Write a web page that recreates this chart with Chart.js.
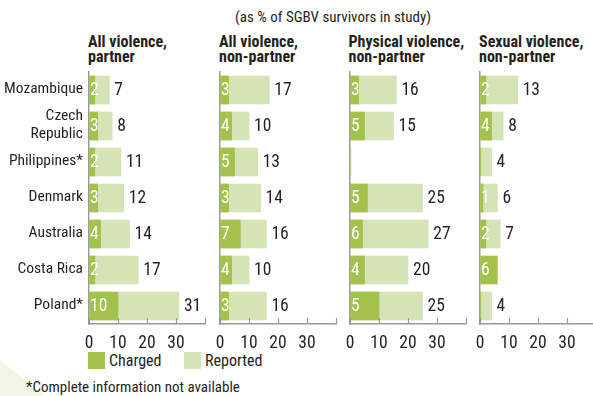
<!DOCTYPE html>
<html>
<head>
<meta charset="utf-8">
<script src="https://cdn.jsdelivr.net/npm/chart.js@4.4.1/dist/chart.umd.min.js"></script>
<style>
  html, body { margin: 0; padding: 0; background: #fff; overflow: hidden; }
  body { width: 593px; height: 396px; position: relative;
         font-family: 'Liberation Sans Narrow', 'Arial Narrow', 'Roboto Condensed', sans-serif; color: #231f20; }
  canvas { position: absolute; }
  .deco { position: absolute; left: 0; top: 0; width: 593px; height: 396px;
          background: #f1f6e7; clip-path: polygon(0 360px, 10px 368px, 30px 384px, 46px 396px, 0 396px); }
  .sub { position: absolute; left: 333px; top: 8px; transform: translateX(-50%); font-size: 15px; white-space: nowrap; }
  .ptitle { position: absolute; top: 34px; font-size: 16px; font-weight: bold; line-height: 15px; white-space: pre; }
  .sw { position: absolute; top: 352px; width: 17px; height: 17px; }
  .lg { position: absolute; top: 352px; font-size: 16px; line-height: 18px; }
  .foot { position: absolute; left: 26px; top: 378px; font-size: 15px; white-space: nowrap; }
</style>
</head>
<body>
<div class="deco"></div>
<div class="sub">(as % of SGBV survivors in study)</div>
<div id="titles"></div>
<div class="sw" style="left:88px;background:#a2c14d"></div>
<div class="lg" style="left:109px">Charged</div>
<div class="sw" style="left:184px;background:#d5e3b6"></div>
<div class="lg" style="left:205px">Reported</div>
<div class="foot">*Complete information not available</div>

<script>
// data
const countries = ['Mozambique', 'Czech\nRepublic', 'Philippines*', 'Denmark', 'Australia', 'Costa Rica', 'Poland*'];
const panelTitles = ['All violence,\npartner', 'All violence,\nnon-partner', 'Physical violence,\nnon-partner', 'Sexual violence,\nnon-partner'];
const xTicks = [0, 10, 20, 30];

const partnerCharged = [2, 3, 2, 3, 4, 2, 10];
const partnerReported = [7, 8, 11, 12, 14, 17, 31];

const nonPartnerCharged = [3, 4, 5, 3, 7, 4, 3];
const nonPartnerReported = [17, 10, 13, 14, 16, 10, 16];

// physical: bar lengths as drawn, printed numbers kept apart (they don't agree in the source)
const physicalChargedBar = [3, 5, 0, 6, 4.3, 5, 10];
const physicalChargedText = [3, 5, null, 5, 6, 4, 5];
const physicalReported = [16, 15, 0.4, 25, 27, 20, 25];
const physicalReportedText = [16, 15, null, 25, 27, 20, 25];

const sexualCharged = [2, 4, 0.3, 1, 2, 6, 0.3];
const sexualChargedText = [2, 4, null, 1, 2, 6, null];
const sexualReported = [13, 8, 4, 6, 7, null, 4];

const DARK = '#a2c14d';
const LIGHT = '#d5e3b6';
const INK = '#231f20';
const AXIS = '#9a9a9a';
const FONT = "'Liberation Sans Narrow', 'Arial Narrow', 'Roboto Condensed', sans-serif";

const panels = [
  { x0: 89, charged: partnerCharged, reported: partnerReported },
  { x0: 220, charged: nonPartnerCharged, reported: nonPartnerReported },
  { x0: 349.5, charged: physicalChargedBar, chargedText: physicalChargedText,
    reported: physicalReported, reportedText: physicalReportedText },
  { x0: 480, charged: sexualCharged, chargedText: sexualChargedText, reported: sexualReported }
];

const AREA_W = 116;   // 0..40 span
const TOP = 62, PAD_T = 10, AREA_H = 252, AXIS_H = 32;

Chart.defaults.font.family = FONT;
Chart.defaults.color = INK;

// value labels, upward tick marks, country names
const decor = {
  id: 'decor',
  afterDatasetsDraw(chart, args, opts) {
    const ctx = chart.ctx;
    const xs = chart.scales.x, ys = chart.scales.y;
    const p = opts.panel;
    ctx.save();
    ctx.font = '17.5px ' + FONT;
    ctx.textBaseline = 'middle';
    countries.forEach((c, i) => {
      const y = ys.getPixelForValue(i) + 1;
      const ct = p.chargedText ? p.chargedText[i] : p.charged[i];
      if (ct !== null && ct !== undefined) {
        ctx.fillStyle = '#fff';
        ctx.textAlign = 'left';
        ctx.fillText(String(ct), xs.getPixelForValue(0) + 1, y);
      }
      const rv = p.reported[i];
      const rt = p.reportedText ? p.reportedText[i] : rv;
      if (rv !== null && rt !== null) {
        ctx.fillStyle = INK;
        ctx.textAlign = 'left';
        ctx.fillText(String(rt), xs.getPixelForValue(rv) + 5, y);
      }
    });
    // small tick marks pointing up from the axis
    ctx.strokeStyle = AXIS;
    ctx.lineWidth = 1.2;
    [0, 10, 20, 30, 40].forEach(v => {
      const x = Math.round(xs.getPixelForValue(v)) + 0.5;
      ctx.beginPath();
      ctx.moveTo(x, chart.chartArea.bottom);
      ctx.lineTo(x, chart.chartArea.bottom - 6);
      ctx.stroke();
    });
    if (opts.names) {
      ctx.fillStyle = INK;
      ctx.font = '15.5px ' + FONT;
      ctx.textAlign = 'right';
      countries.forEach((c, i) => {
        const lines = c.split('\n');
        const y = ys.getPixelForValue(i);
        lines.forEach((ln, k) => {
          ctx.fillText(ln, xs.getPixelForValue(0) - 6, y + (k - (lines.length - 1) / 2) * 18 - 1);
        });
      });
    }
    ctx.restore();
  }
};

const titles = document.getElementById('titles');

panels.forEach((p, idx) => {
  const padL = idx === 0 ? p.x0 : 10;
  const padR = 10;
  const cv = document.createElement('canvas');
  cv.width = padL + AREA_W + padR;
  cv.height = PAD_T + AREA_H + AXIS_H;
  cv.style.left = (p.x0 - padL) + 'px';
  cv.style.top = TOP + 'px';
  document.body.appendChild(cv);

  const t = document.createElement('div');
  t.className = 'ptitle';
  t.style.left = (p.x0 - 1) + 'px';
  t.textContent = panelTitles[idx];
  titles.appendChild(t);

  new Chart(cv.getContext('2d'), {
    type: 'bar',
    data: {
      labels: countries,
      datasets: [
        { label: 'Charged', data: p.charged, backgroundColor: DARK, grouped: false, order: 0, barThickness: 28 },
        { label: 'Reported', data: p.reported, backgroundColor: LIGHT, grouped: false, order: 1, barThickness: 28 }
      ]
    },
    options: {
      indexAxis: 'y',
      responsive: false,
      animation: false,
      layout: { padding: { left: padL, right: padR, top: PAD_T, bottom: 0 } },
      plugins: {
        legend: { display: false },
        tooltip: { enabled: false },
        decor: { panel: p, names: idx === 0 }
      },
      scales: {
        x: {
          min: 0,
          max: 40,
          afterFit: s => { s.height = AXIS_H; s.paddingLeft = 0; s.paddingRight = 0; },
          afterBuildTicks: s => { s.ticks = [0, 10, 20, 30, 40].map(v => ({ value: v })); },
          ticks: {
            padding: 9,
            color: INK,
            font: { size: 17.5 },
            maxRotation: 0,
            callback: v => xTicks.includes(v) ? String(v) : ''
          },
          grid: { drawOnChartArea: false, drawTicks: false },
          border: { display: true, color: AXIS, width: 1.5 }
        },
        y: {
          afterFit: s => { s.width = 0; },
          ticks: { display: false },
          grid: { display: false, drawTicks: false },
          border: { display: true, color: AXIS, width: 1.5 }
        }
      }
    },
    plugins: [decor]
  });
});
</script>
</body>
</html>
